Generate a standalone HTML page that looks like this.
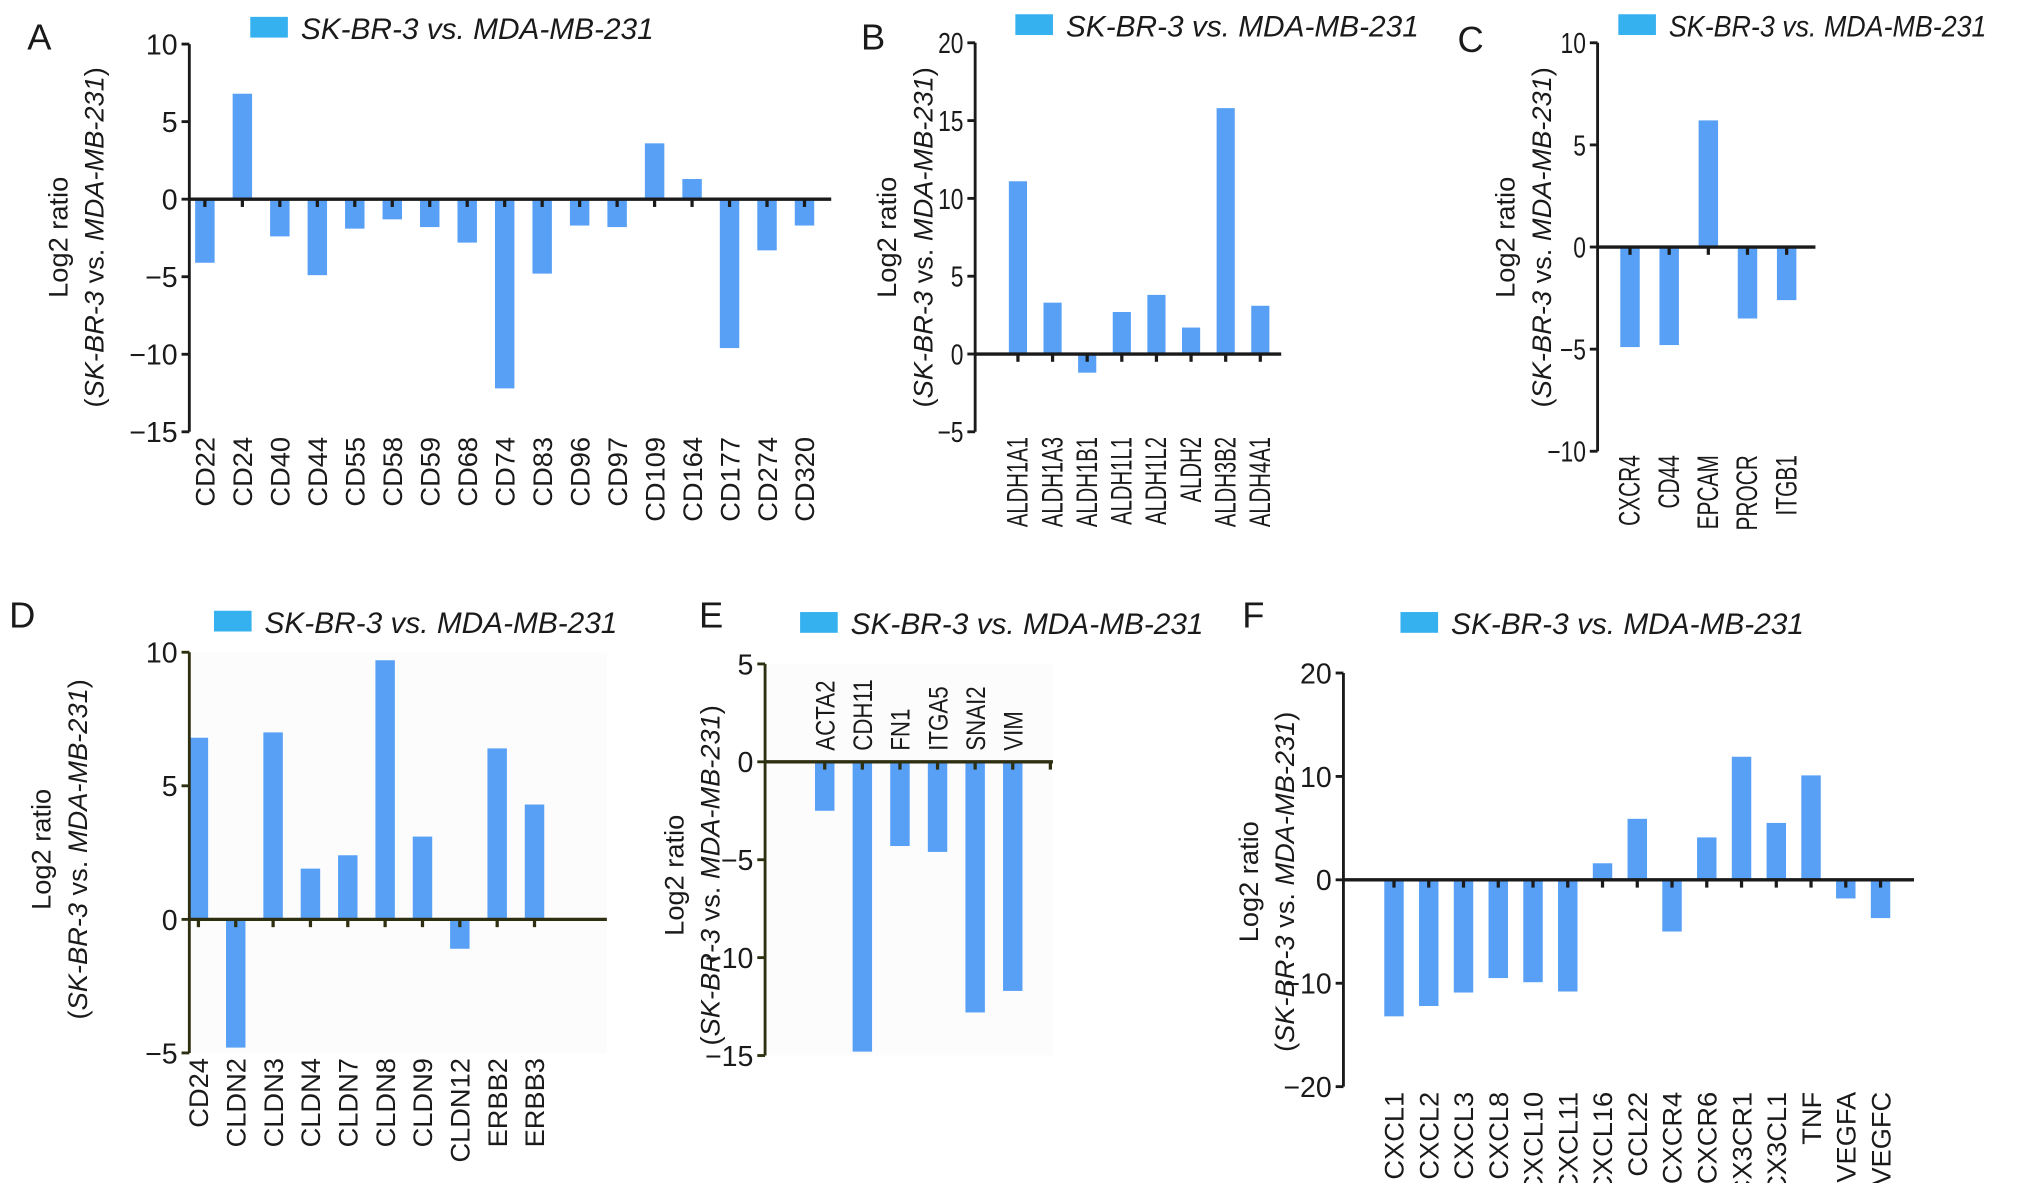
<!DOCTYPE html>
<html><head><meta charset="utf-8"><style>
html,body{margin:0;padding:0;background:#fff;}
svg{display:block;}
text{font-family:"Liberation Sans",Arial,sans-serif;fill:#1a1a1a;}
</style></head><body>
<svg id="fig" width="2032" height="1183" viewBox="0 0 1567 912.3" preserveAspectRatio="none" xmlns="http://www.w3.org/2000/svg"></svg>
<script>
// Panel A
const catsA = ["CD22","CD24","CD40","CD44","CD55","CD58","CD59","CD68","CD74","CD83","CD96","CD97","CD109","CD164","CD177","CD274","CD320"];
const valsA = [-4.1,6.8,-2.4,-4.9,-1.9,-1.3,-1.8,-2.8,-12.2,-4.8,-1.7,-1.8,3.6,1.3,-9.6,-3.3,-1.7];
const ticksA = [10,5,0,-5,-10,-15];
// Panel B
const catsB = ["ALDH1A1","ALDH1A3","ALDH1B1","ALDH1L1","ALDH1L2","ALDH2","ALDH3B2","ALDH4A1"];
const valsB = [11.1,3.3,-1.2,2.7,3.8,1.7,15.8,3.1];
const ticksB = [20,15,10,5,0,-5];
// Panel C
const catsC = ["CXCR4","CD44","EPCAM","PROCR","ITGB1"];
const valsC = [-4.9,-4.8,6.2,-3.5,-2.6];
const ticksC = [10,5,0,-5,-10];
// Panel D
const catsD = ["CD24","CLDN2","CLDN3","CLDN4","CLDN7","CLDN8","CLDN9","CLDN12","ERBB2","ERBB3"];
const valsD = [6.8,-4.8,7.0,1.9,2.4,9.7,3.1,-1.1,6.4,4.3];
const ticksD = [10,5,0,-5];
// Panel E
const catsE = ["ACTA2","CDH11","FN1","ITGA5","SNAI2","VIM"];
const valsE = [-2.5,-14.8,-4.3,-4.6,-12.8,-11.7];
const ticksE = [5,0,-5,-10,-15];
// Panel F
const catsF = ["CXCL1","CXCL2","CXCL3","CXCL8","CXCL10","CXCL11","CXCL16","CCL22","CXCR4","CXCR6","CX3CR1","CX3CL1","TNF","VEGFA","VEGFC"];
const valsF = [-13.2,-12.2,-10.9,-9.5,-9.9,-10.8,1.6,5.9,-5.0,4.1,11.9,5.5,10.1,-1.8,-3.7];
const ticksF = [20,10,0,-10,-20];

const NS="http://www.w3.org/2000/svg";
const svg=document.getElementById('fig');
function mk(tag,attrs,parent){const e=document.createElementNS(NS,tag);for(const k in attrs)e.setAttribute(k,attrs[k]);(parent||svg).appendChild(e);return e;}

function panel(id,letter,cats,vals,ticks,g){
  const grp=mk('g',{});
  
  
  const ymax=ticks[0],ymin=ticks[ticks.length-1];
  const y=v=>g.yTop+(ymax-v)/(ymax-ymin)*(g.yBot-g.yTop);
  const x=i=>g.x0+i*g.dx;
  const axisCol=g.axisCol||'#1a1a1a';
  const ls=g.ls||1, ts=g.ts||1, lgs=g.lgs||1, lf=g.lf||21;
  if(g.bg){const bg=mk('rect',{x:g.ax,y:g.yTop,width:g.xEnd-g.ax,height:g.yBot-g.yTop,fill:g.bg},grp);}
  vals.forEach((v,i)=>{
    const r=mk('rect',{x:x(i)-g.bw/2,y:Math.min(y(v),y(0)),width:g.bw,height:Math.abs(y(v)-y(0)),fill:'#58a0f6'},grp);
    
    
  });
  const ya=mk('line',{x1:g.ax,x2:g.ax,y1:y(ymax),y2:y(ymin),stroke:axisCol,'stroke-width':2.2},grp);
  
  
  ticks.forEach(t=>{
    mk('line',{x1:g.ax-6,x2:g.ax,y1:y(t),y2:y(t),stroke:axisCol,'stroke-width':2.2},grp);
    const tl=mk('text',{x:0,y:0,'text-anchor':'end','font-size':22,transform:`translate(${g.ax-9},${y(t)+8}) scale(${ts},1)`},grp);
    tl.textContent=t<0?'\u2212'+Math.abs(t):String(t);
    
    
  });
  const xa=mk('line',{x1:g.ax,x2:g.xEnd,y1:y(0),y2:y(0),stroke:axisCol,'stroke-width':2.6},grp);
  
  
  const nt=cats.length+(g.extraTick?1:0);
  for(let i=0;i<nt;i++){mk('line',{x1:x(i),x2:x(i),y1:y(0),y2:y(0)+6,stroke:axisCol,'stroke-width':2.5},grp);}
  cats.forEach((c,i)=>{
    const t=mk('text',{x:0,y:0,'text-anchor':g.labelAbove?'start':'end','font-size':lf,transform:`translate(${x(i)+7.5},${g.labY}) rotate(-90) scale(${ls},1)`},grp);
    t.textContent=c;
    
    
  });
  const t1=mk('text',{x:0,y:0,'text-anchor':'middle','font-size':21,transform:`translate(${g.ytx},${g.yty}) rotate(-90)`},grp);
  t1.textContent='Log2 ratio';
  
  
  const t2=mk('text',{x:0,y:0,'text-anchor':'middle','font-size':21,transform:`translate(${g.ytx+28},${g.yty}) rotate(-90)`},grp);
  t2.innerHTML='(<tspan font-style="italic">SK-BR-3</tspan> vs. <tspan font-style="italic">MDA-MB-231</tspan>)';
  
  
  const lr=mk('rect',{x:g.lx,y:g.ly,width:29,height:16,fill:'#35b1ef'},grp);
  
  
  const lt=mk('text',{x:0,y:0,'font-size':23,'font-style':'italic',transform:`translate(${g.lx+39},${g.ly+17}) scale(${lgs},1)`},grp);
  lt.textContent='SK-BR-3 vs. MDA-MB-231';
  
  
  const L=mk('text',{x:g.px,y:g.py,'font-size':28},grp);
  L.textContent=letter;
  
  
}

panel('a','A',catsA,valsA,ticksA,{ax:146,xEnd:641,yTop:34,yBot:333,x0:158,dx:28.9,bw:15,labY:337,ytx:52,yty:183,lx:193,ly:13,px:21,py:38});
panel('b','B',catsB,valsB,ticksB,{ax:752,xEnd:988,yTop:33,yBot:333,x0:785,dx:26.7,bw:14,labY:337,lf:23,ls:0.68,ts:0.8,ytx:691,yty:183,lx:783,ly:11,px:664,py:38});
panel('c','C',catsC,valsC,ticksC,{ax:1232,xEnd:1400,yTop:33,yBot:348,x0:1257,dx:30.2,bw:15,labY:351,lf:23,ls:0.7,ts:0.8,lgs:0.9,ytx:1168,yty:183,lx:1248,ly:11,px:1124,py:40});
panel('d','D',catsD,valsD,ticksD,{ax:146,xEnd:468,yTop:503,yBot:812,x0:153,dx:28.8,bw:15,labY:816,ytx:39,yty:655,lx:165,ly:471,px:7,py:484,axisCol:'#2e2e10',bg:'#fcfcfc'});
panel('e','E',catsE,valsE,ticksE,{ax:590,xEnd:812,yTop:512,yBot:814,x0:636,dx:29,bw:15,labY:579,ls:0.82,labelAbove:true,extraTick:true,ytx:527,yty:675,lx:617,ly:472,px:539,py:484,axisCol:'#2e2e10',bg:'#fcfcfc'});
panel('f','F',catsF,valsF,ticksF,{ax:1036,xEnd:1476,yTop:519,yBot:838,x0:1075,dx:26.8,bw:15,labY:842,ytx:970,yty:680,lx:1080,ly:472,px:958,py:484});
</script>
</body></html>
